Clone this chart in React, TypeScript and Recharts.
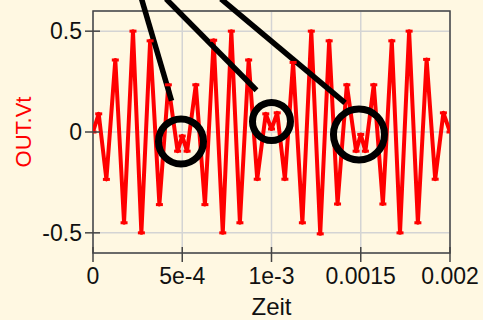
import React from 'react';
import { LineChart, Line, XAxis, YAxis, CartesianGrid, ReferenceArea, ReferenceDot, ReferenceLine } from 'recharts';

// Zeit (s) und OUT.Vt an den Umkehrpunkten
const zeit = [
  0, 3.2e-5, 7.5e-5, 1.25e-4, 1.74e-4, 2.24e-4, 2.71e-4, 3.2e-4, 3.72e-4, 4.22e-4,
  4.74e-4, 5.0e-4, 5.27e-4, 5.76e-4, 6.27e-4, 6.76e-4, 7.27e-4, 7.75e-4, 8.23e-4, 8.72e-4,
  9.2e-4, 9.68e-4, 1.0e-3, 1.032e-3, 1.075e-3, 1.121e-3, 1.173e-3, 1.223e-3, 1.273e-3, 1.323e-3,
  1.37e-3, 1.422e-3, 1.474e-3, 1.5e-3, 1.526e-3, 1.573e-3, 1.624e-3, 1.674e-3, 1.72e-3, 1.771e-3,
  1.82e-3, 1.869e-3, 1.917e-3, 1.963e-3, 2.0e-3,
];
const outVt = [
  0, 0.09, -0.235, 0.357, -0.45, 0.5, -0.5, 0.452, -0.36, 0.234,
  -0.095, -0.02, -0.095, 0.234, -0.36, 0.455, -0.5, 0.5, -0.45, 0.357,
  -0.234, 0.09, 0.015, 0.095, -0.234, 0.345, -0.45, 0.5, -0.505, 0.452,
  -0.357, 0.234, -0.095, -0.012, -0.095, 0.234, -0.357, 0.452, -0.5, 0.5,
  -0.45, 0.36, -0.234, 0.095, 0,
];

const xTicks = [0, 5e-4, 1e-3, 1.5e-3, 2e-3];
const xTickLabels = ['0', '5e-4', '1e-3', '0.0015', '0.002'];
const yTicks = [-0.5, 0, 0.5];
const yTickLabels = ['-0.5', '0', '0.5'];

// Kreise um die "W"-Stellen
const kreisX = [4.93e-4, 1.0e-3, 1.49e-3];
const kreisY = [-0.047, 0.052, -0.012];
const kreisR = [22.5, 19, 25.5];

// Zeiger von oben auf die Kreise
const zeigerVonX = [2.72e-4, 4.09e-4, 7.17e-4];
const zeigerBisX = [4.4e-4, 9.16e-4, 1.412e-3];
const zeigerBisY = [0.155, 0.207, 0.144];
const zeigerVonY = 0.66;

const BG = '#FFF8E2';
const AXIS = '#444';

const data = zeit.map((t, i) => ({ t, v: outVt[i] }));

const YTick = (props: any) => {
  const { x, y, payload } = props;
  const ax = x + 11; // tickSize 8 + tickMargin 3
  return (
    <g>
      <line x1={ax - 8} x2={ax + 7} y1={y} y2={y} stroke={AXIS} strokeWidth={1.5} />
      <text x={x} y={y} dy="0.355em" textAnchor="end" fontSize={23} fill="#111">
        {yTickLabels[yTicks.indexOf(payload.value)]}
      </text>
    </g>
  );
};

const XTick = (props: any) => {
  const { x, y, payload } = props;
  const ay = y - 15; // tickSize 9 + tickMargin 6
  return (
    <g>
      <line x1={x} x2={x} y1={ay - 6} y2={ay + 9} stroke={AXIS} strokeWidth={1.5} />
      <text x={x} y={y} dy="0.71em" textAnchor="middle" fontSize={23} fill="#111">
        {xTickLabels[xTicks.indexOf(payload.value)]}
      </text>
    </g>
  );
};

const xLabel = (props: any) => {
  const vb = props.viewBox || { x: 93, y: 253, width: 357, height: 67 };
  return (
    <text x={vb.x + vb.width / 2} y={vb.y + 62} textAnchor="middle" fontSize={24} fill="#111">
      Zeit
    </text>
  );
};

const yLabel = (props: any) => {
  const vb = props.viewBox || { x: 0, y: 11, width: 93, height: 242 };
  const cx = vb.x + 31;
  const cy = vb.y + vb.height / 2;
  return (
    <text x={cx} y={cy} transform={`rotate(-90, ${cx}, ${cy})`} textAnchor="middle" fontSize={22} fill="#ff0000">
      OUT.Vt
    </text>
  );
};

const dash = (props: any) => {
  const { cx, cy, index } = props;
  return <rect key={`d-${index}`} x={cx - 3.5} y={cy - 1.5} width={7} height={3} fill="#ff0000" />;
};

const App: React.FC = () => {
  return (
    <div
      style={{
        position: 'fixed', left: 0, top: 0, width: 483, height: 320,
        background: BG, fontFamily: '"Liberation Sans", Arial, sans-serif',
      }}
    >
      <LineChart width={483} height={320} data={data} margin={{ top: 11, right: 33, bottom: 0, left: 0 }}>
        <CartesianGrid stroke="#d4d4d4" strokeWidth={1.5} />
        <XAxis
          dataKey="t"
          type="number"
          domain={[0, 0.002]}
          ticks={xTicks}
          allowDataOverflow
          height={67}
          axisLine={false}
          tickLine={false}
          tickSize={9}
          tickMargin={6}
          tick={<XTick />}
          interval={0}
          label={xLabel}
        />
        <YAxis
          type="number"
          domain={[-0.6, 0.6]}
          ticks={yTicks}
          allowDataOverflow
          width={93}
          axisLine={false}
          tickLine={false}
          tickSize={8}
          tickMargin={3}
          tick={<YTick />}
          interval={0}
          label={yLabel}
        />
        <ReferenceArea x1={0} x2={0.002} y1={-0.6} y2={0.6} fill="none" fillOpacity={0} stroke={AXIS} strokeWidth={1.5} />
        <Line
          type="linear"
          dataKey="v"
          stroke="#ff0000"
          strokeWidth={4}
          strokeLinejoin="round"
          dot={dash}
          isAnimationActive={false}
        />
        {zeigerVonX.map((x0, i) => (
          <ReferenceLine
            key={`z-${i}`}
            segment={[{ x: x0, y: zeigerVonY }, { x: zeigerBisX[i], y: zeigerBisY[i] }]}
            stroke="#000"
            strokeWidth={5.5}
            ifOverflow="visible"
          />
        ))}
        {kreisX.map((x, i) => (
          <ReferenceDot
            key={`k-${i}`}
            x={x}
            y={kreisY[i]}
            r={kreisR[i]}
            fill="none"
            stroke="#000"
            strokeWidth={7}
            ifOverflow="visible"
          />
        ))}
      </LineChart>
    </div>
  );
};

export default App;
